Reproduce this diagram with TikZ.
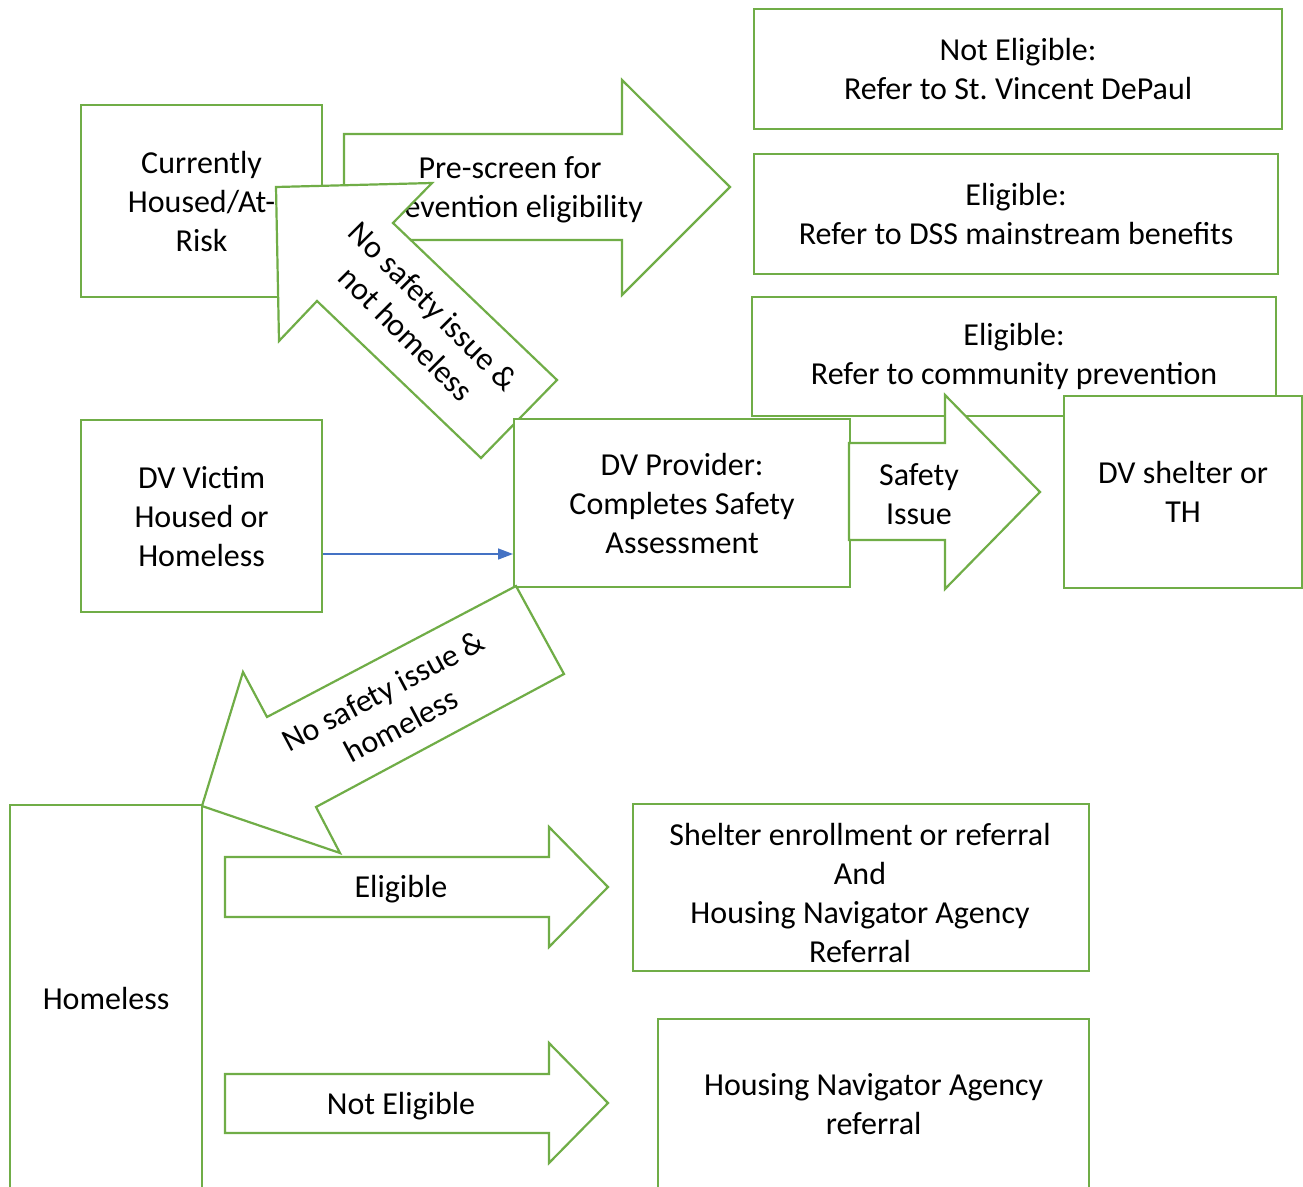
\documentclass[tikz,border=0pt]{standalone}
\usepackage{fontspec}
\setmainfont{Carlito}
\frenchspacing
\usetikzlibrary{arrows.meta}
\definecolor{grn}{HTML}{70AD47}
\definecolor{blu}{HTML}{4472C4}
\begin{document}
\begin{tikzpicture}[x=1pt,y=-1pt,
  box/.style={draw=grn, line width=2.2pt, fill=white, align=center, inner sep=0pt, anchor=north west, font=\fontsize{32}{39}\selectfont},
  blockarrow/.style={draw=grn, line width=2.2pt, fill=white, line join=miter},
  lbl/.style={align=center, inner sep=0pt, font=\fontsize{32}{39}\selectfont},
  conn/.style={draw=blu, line width=1.5pt, -{Triangle[length=15pt,width=11pt]}}]
\useasboundingbox (0,0) rectangle (1303,1186);
\clip (0,0) rectangle (1303,1186);
% top right boxes
\node[box, minimum width=524pt, minimum height=119pt] (comm) at (751,296) {Eligible:\\Refer to community prevention};
\node[box, minimum width=528pt, minimum height=120pt] (nelig) at (753,8) {Not Eligible:\\Refer to St. Vincent DePaul};
\node[box, minimum width=524pt, minimum height=120pt] (dss) at (753,153) {Eligible:\\Refer to DSS mainstream benefits};
% currently housed
\node[box, minimum width=241pt, minimum height=192pt] (housed) at (80,104) {Currently\\Housed/At-\\Risk};
% pre-screen arrow
\draw[blockarrow] (344,134) -- (622,134) -- (622,80) -- (730,187) -- (622,295) -- (622,240) -- (344,240) -- cycle;
\node[lbl] (pretext) at (510,190) {Pre-screen for\\prevention eligibility};
% diagonal arrow: not homeless
\draw[blockarrow] (276,187) -- (432,183) -- (393,223) -- (557,380) -- (481,458) -- (317,301) -- (279,341) -- cycle;
\node[lbl, rotate=-45] (nothomeless) at (420,320) {No safety issue \&\\not homeless};
% DV provider
\node[box, minimum width=336pt, minimum height=168pt] (prov) at (513,418) {DV Provider:\\Completes Safety\\Assessment};
% safety arrow
\draw[blockarrow] (849,443) -- (945,443) -- (945,395) -- (1040,492) -- (945,589) -- (945,540) -- (849,540) -- cycle;
\node[lbl] (safety) at (919,494) {Safety\\Issue};
% DV shelter
\node[box, minimum width=238pt, minimum height=192pt] (dvshelter) at (1063,395) {DV shelter or\\TH};
% DV victim
\node[box, minimum width=241pt, minimum height=192pt] (victim) at (80,419) {DV Victim\\Housed or\\Homeless};
\draw[conn] (victim.east |- {(0,554)}) -- (prov.west |- {(0,554)});
% diagonal arrow: homeless
\draw[blockarrow] (202,806) -- (243,672) -- (267,717) -- (516,586) -- (564,674) -- (316,807) -- (340,853) -- cycle;
\node[lbl, rotate=28] (homelesstext) at (392,708) {No safety issue \&\\homeless};
% homeless
\node[box, minimum width=192pt, minimum height=386pt] (homeless) at (9,804) {Homeless};
% eligible arrow
\draw[blockarrow] (225,857) -- (549,857) -- (549,827) -- (608,887) -- (549,947) -- (549,917) -- (225,917) -- cycle;
\node[lbl] (eligtext) at (401,889) {Eligible};
\node[box, minimum width=456pt, minimum height=167pt] (shelter) at (632,803) {};
\node[lbl] (sheltertext) at (860,893) {Shelter enrollment or referral\\And\\Housing Navigator Agency\\Referral};
% not eligible arrow
\draw[blockarrow] (225,1074) -- (549,1074) -- (549,1043) -- (608,1103) -- (549,1163) -- (549,1133) -- (225,1133) -- cycle;
\node[lbl] (neligtext) at (401,1106) {Not Eligible};
\node[box, minimum width=431pt, minimum height=170pt] (housingnav) at (657,1018) {Housing Navigator Agency\\referral};
\end{tikzpicture}
\end{document}
